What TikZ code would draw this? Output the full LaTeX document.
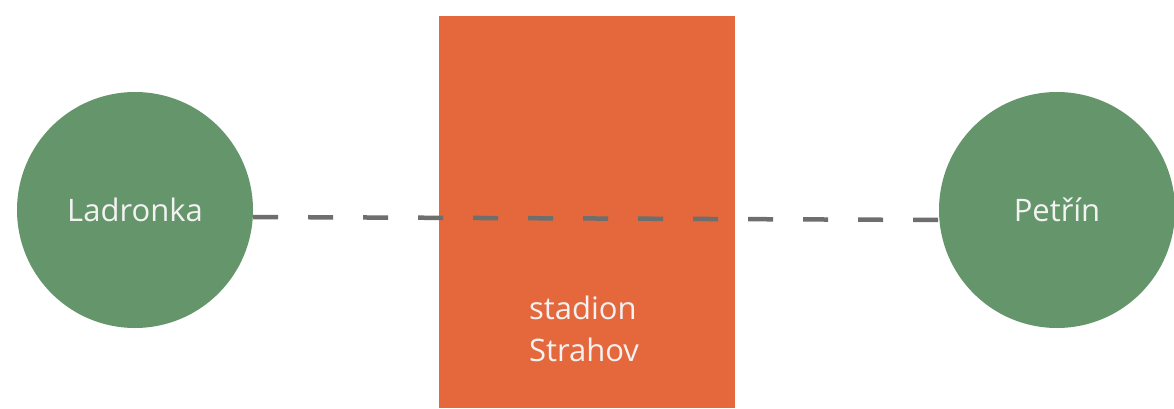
\documentclass[tikz,border=0pt]{standalone}
\usepackage{fontspec}
\setmainfont{Open Sans}
\definecolor{parkgreen}{HTML}{65956A}
\definecolor{stadorange}{HTML}{E5673C}
\definecolor{dashgray}{HTML}{6C6F6E}
\tikzset{
  park/.style={circle, fill=parkgreen, draw=none, minimum size=236pt, inner sep=0pt,
    text=white!95!black, font=\fontsize{31}{36}\selectfont},
  stadbox/.style={rectangle, fill=stadorange, draw=none, minimum width=296pt, minimum height=392pt, inner sep=0pt},
  stadtext/.style={text=white!95!black, align=left, inner sep=0pt, font=\fontsize{31}{42}\selectfont},
  route/.style={draw=dashgray, line width=4.5pt, dash pattern=on 25pt off 30pt}
}
\begin{document}
\begin{tikzpicture}[x=1pt,y=1pt]
\useasboundingbox (0,0) rectangle (1174,408);
\node[stadbox] (stadion) at (587,196) {};
\node[stadtext] (stext) at (584,79) {stadion\\Strahov};
\node[park] (ladronka) at (135,198) {Ladronka};
\node[park] (petrin) at (1057,198) {Petřín};
\draw[route] ([yshift=-7pt]ladronka.east) -- ([yshift=-10pt]petrin.west);
\end{tikzpicture}
\end{document}
